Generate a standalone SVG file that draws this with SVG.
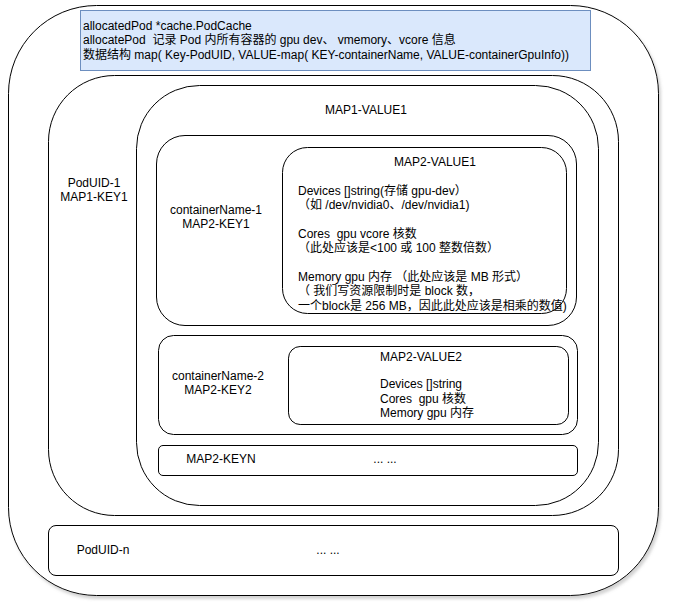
<svg xmlns="http://www.w3.org/2000/svg" width="676" height="602" viewBox="0 0 676 602">
<style>
  .box { fill: #ffffff; stroke: #000000; stroke-width: 1; }
  .blue { fill: #dae8fc; stroke: #6c8ebf; stroke-width: 1; }
  text { font-family: 'Liberation Sans', 'Noto Sans CJK SC', sans-serif; font-size: 12px; fill: #000000; white-space: pre; }
  .c { text-anchor: middle; }
</style>
<defs>
  <filter id="shadow" x="-5%" y="-5%" width="110%" height="110%">
    <feDropShadow dx="2" dy="3" stdDeviation="1.5" flood-color="#808080" flood-opacity="0.35"/>
  </filter>
</defs>
<g id="outer">
  <rect class="box" x="8.5" y="5.5" width="650" height="590" rx="88" ry="88" filter="url(#shadow)"/>
</g>
<g id="header">
  <rect class="blue" x="80.5" y="10.5" width="510" height="60"/>
  <text x="83" y="30" xml:space="preserve">allocatedPod *cache.PodCache</text>
  <text x="83" y="44.3" xml:space="preserve">allocatePod  记录 Pod 内所有容器的 gpu dev、 vmemory、vcore 信息</text>
  <text x="83" y="58.5" xml:space="preserve">数据结构 map( Key-PodUID, VALUE-map( KEY-containerName, VALUE-containerGpuInfo))</text>
</g>
<g id="poduid-1">
  <rect class="box" x="48.5" y="75.5" width="570" height="440" rx="66" ry="66"/>
  <text class="c" x="94" y="187">PodUID-1</text>
  <text class="c" x="94" y="201.4">MAP1-KEY1</text>
</g>
<g id="map1-value1">
  <rect class="box" x="136.5" y="85.5" width="462" height="420" rx="63" ry="63"/>
  <text class="c" x="366" y="114">MAP1-VALUE1</text>
</g>
<g id="containername-1">
  <rect class="box" x="156.5" y="135.5" width="420" height="190" rx="28.5" ry="28.5"/>
  <text class="c" x="216" y="213.5">containerName-1</text>
  <text class="c" x="216" y="227.9">MAP2-KEY1</text>
</g>
<g id="map2-value1">
  <rect class="box" x="282.5" y="147.5" width="284" height="166" rx="25" ry="25"/>
  <text class="c" x="435" y="165.8">MAP2-VALUE1</text>
  <text x="298" y="194.6" xml:space="preserve">Devices []string(存储 gpu-dev）</text>
  <text x="298" y="209" xml:space="preserve">（如 /dev/nvidia0、/dev/nvidia1)</text>
  <text x="298" y="237.8" xml:space="preserve">Cores  gpu vcore 核数</text>
  <text x="298" y="252.2" xml:space="preserve">（此处应该是&lt;100 或 100 整数倍数）</text>
  <text x="298" y="281" xml:space="preserve">Memory gpu 内存 （此处应该是 MB 形式）</text>
  <text x="298" y="295.4" xml:space="preserve">（ 我们写资源限制时是 block 数，</text>
  <text x="298" y="309.8" xml:space="preserve">一个block是 256 MB，因此此处应该是相乘的数值)</text>
</g>
<g id="containername-2">
  <rect class="box" x="158.5" y="335.5" width="419" height="99" rx="15" ry="15"/>
  <text class="c" x="218" y="380">containerName-2</text>
  <text class="c" x="218" y="394.4">MAP2-KEY2</text>
</g>
<g id="map2-value2">
  <rect class="box" x="288.5" y="346.5" width="280" height="78" rx="11.7" ry="11.7"/>
  <text x="380" y="360.8">MAP2-VALUE2</text>
  <text x="380" y="388.4">Devices []string</text>
  <text x="380" y="402.8" xml:space="preserve">Cores  gpu 核数</text>
  <text x="380" y="417.2">Memory gpu 内存</text>
</g>
<g id="map2-keyn">
  <rect class="box" x="158.5" y="445.5" width="419" height="30" rx="4.5" ry="4.5"/>
  <text class="c" x="221" y="463.3">MAP2-KEYN</text>
  <text class="c" x="385" y="463.3">... ...</text>
</g>
<g id="poduid-n">
  <rect class="box" x="48.5" y="525.5" width="570" height="50" rx="7.5" ry="7.5"/>
  <text class="c" x="103" y="553.5">PodUID-n</text>
  <text class="c" x="328" y="553.5">... ...</text>
</g>
</svg>
